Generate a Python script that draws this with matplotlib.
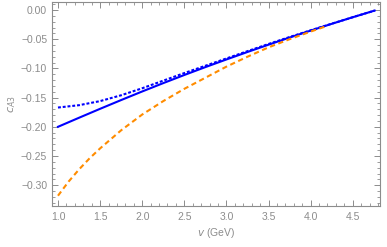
import matplotlib
matplotlib.use("Agg")
import matplotlib.pyplot as plt
from matplotlib.ticker import MultipleLocator

# Data
nu_solid = [1.0, 1.25, 1.5, 1.75, 2.0, 2.25, 2.5, 2.75, 3.0, 3.25, 3.5, 3.75, 4.0, 4.25, 4.5, 4.76]
ca3_solid = [-0.2000, -0.1845, -0.1692, -0.1542, -0.1395, -0.1252, -0.1113, -0.0978,
             -0.0847, -0.0719, -0.0594, -0.0472, -0.0353, -0.0237, -0.0124, -0.0010]

nu_dotted = [1.0, 1.25, 1.5, 1.75, 2.0, 2.25, 2.5, 2.75, 3.0, 3.25, 3.5, 3.75, 4.0, 4.25, 4.5, 4.76]
ca3_dotted = [-0.1670, -0.1630, -0.1560, -0.1460, -0.1340, -0.1210, -0.1080, -0.0955,
              -0.0830, -0.0705, -0.0582, -0.0463, -0.0348, -0.0235, -0.0124, -0.0010]

nu_dashed = [1.0, 1.125, 1.25, 1.375, 1.5, 1.75, 2.0, 2.25, 2.5, 2.75, 3.0, 3.25, 3.5, 3.75, 4.0, 4.2]
ca3_dashed = [-0.318, -0.294, -0.273, -0.254, -0.237, -0.206, -0.179, -0.156, -0.135,
              -0.116, -0.097, -0.080, -0.064, -0.050, -0.037, -0.027]

gray = "#8c8c8c"
plt.rcParams['font.family'] = ['Liberation Sans', 'DejaVu Sans']

fig = plt.figure(figsize=(3.87, 2.47), dpi=100)
ax = fig.add_axes([52/387, 1-206/247, (380-52)/387, (206-2)/247])

ax.plot(nu_solid, ca3_solid, color="#0000ff", lw=1.5, solid_joinstyle='round')
ax.plot(nu_dotted, ca3_dotted, color="#0000ff", lw=1.5, linestyle=(0, (1.4, 0.9)))
ax.plot(nu_dashed, ca3_dashed, color="#ff8c00", lw=1.5, linestyle=(0, (2.5, 1.7)))

ax.set_xlim(0.929, 4.824)
ax.set_ylim(-0.3356, 0.0137)
ax.xaxis.set_major_locator(MultipleLocator(0.5))
ax.xaxis.set_minor_locator(MultipleLocator(0.1))
ax.yaxis.set_major_locator(MultipleLocator(0.05))
ax.yaxis.set_minor_locator(MultipleLocator(0.01))
ax.xaxis.set_major_formatter(plt.FuncFormatter(lambda v, p: f"{v:.1f}"))
ax.yaxis.set_major_formatter(plt.FuncFormatter(lambda v, p: f"{v:.2f}".replace("-", "\u2212")))

for s in ax.spines.values():
    s.set_color(gray)
    s.set_linewidth(0.8)
ax.tick_params(which='both', direction='in', top=True, right=True, colors=gray, labelcolor=gray, labelsize=7.5)
ax.tick_params(which='major', length=4, width=0.7)
ax.tick_params(which='minor', length=2, width=0.6)
ax.tick_params(axis='x', pad=4)

ax.set_xlabel(r"$\it{v}$ (GeV)", color=gray, fontsize=7.5, labelpad=3)
ax.set_ylabel(r"$c_{A3}$", color=gray, fontsize=8, labelpad=2)

fig.savefig("out.png", dpi=100)
